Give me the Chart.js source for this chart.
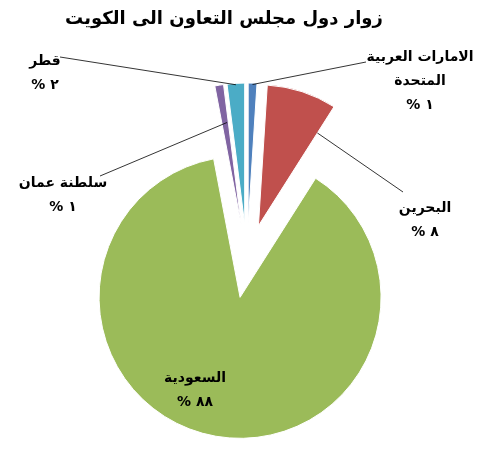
<!DOCTYPE html>
<html>
<head>
<meta charset="utf-8">
<script src="https://cdn.jsdelivr.net/npm/chart.js@4.4.1/dist/chart.umd.min.js"></script>
<style>
  html, body { margin: 0; padding: 0; background: #fff; }
  #wrap { width: 490px; height: 450px; }
</style>
</head>
<body>
<div id="wrap"><canvas id="pieChart"></canvas></div>
<script>
// البيانات
const chartTitle = "زوار دول مجلس التعاون الى الكويت";
const countries = ["الامارات العربية المتحدة", "البحرين", "السعودية", "سلطنة عمان", "قطر"];
const labelLines = [["الامارات العربية", "المتحدة"], ["البحرين"], ["السعودية"], ["سلطنة عمان"], ["قطر"]];
const visitorShare = [1, 8, 88, 1, 2];
const sliceColors = ["#4F81BD", "#C0504D", "#9BBB59", "#8064A2", "#4BACC6"];

// مكان كل تسمية + نقطة بداية خط الدليل (t = موضع على زاوية الشريحة, rf = نسبة من نصف القطر)
const labelBoxes = [
  { x: 420, y: 57, lead: [366, 62], t: 0.5, rf: 0.99 },
  { x: 425, y: 208, lead: [403, 192], t: 1.0, rf: 0.78 },
  { x: 195, y: 378, lead: null },
  { x: 63, y: 183, lead: [100, 176], t: 0.8, rf: 0.73 },
  { x: 45, y: 61, lead: [60, 57], t: 0.5, rf: 0.99 }
];

const SHIFT = 37; // مسافة فصل الشرائح
const FONT = '"DejaVu Sans", Arial, sans-serif';

function arabicDigits(n) {
  return String(n).replace(/\d/g, (d) => "٠١٢٣٤٥٦٧٨٩"[d]);
}

// رسم الشريحة مزاحة بالكامل (مثل Excel) بدل التصغير الافتراضي في Chart.js
Chart.ArcElement.prototype.draw = function (ctx) {
  const { x, y, startAngle, endAngle, outerRadius } = this;
  const opts = this.options;
  const mid = (startAngle + endAngle) / 2;
  const shift = opts.offset || 0;
  ctx.save();
  ctx.translate(Math.cos(mid) * shift, Math.sin(mid) * shift);
  ctx.beginPath();
  ctx.moveTo(x, y);
  ctx.arc(x, y, outerRadius, startAngle, endAngle);
  ctx.closePath();
  ctx.fillStyle = opts.backgroundColor;
  ctx.fill();
  if (opts.borderWidth) {
    ctx.lineWidth = opts.borderWidth;
    ctx.strokeStyle = opts.borderColor;
    ctx.stroke();
  }
  ctx.restore();
};

const pieLabels = {
  id: "pieLabels",
  afterDatasetsDraw(chart) {
    const ctx = chart.ctx;
    const arcs = chart.getDatasetMeta(0).data;

    ctx.save();
    // العنوان
    ctx.fillStyle = "#000";
    ctx.textAlign = "center";
    ctx.textBaseline = "middle";
    ctx.direction = "rtl";
    ctx.font = "bold 18px " + FONT;
    ctx.fillText(chartTitle, 224, 19);

    arcs.forEach((arc, i) => {
      const box = labelBoxes[i];
      const p = arc.getProps(["x", "y", "startAngle", "endAngle", "outerRadius"], true);
      const shift = arc.options.offset || 0;
      const mid = (p.startAngle + p.endAngle) / 2;

      if (box.lead) {
        const a = p.startAngle + box.t * (p.endAngle - p.startAngle);
        const ax = p.x + Math.cos(mid) * shift + Math.cos(a) * p.outerRadius * box.rf;
        const ay = p.y + Math.sin(mid) * shift + Math.sin(a) * p.outerRadius * box.rf;
        ctx.beginPath();
        ctx.moveTo(box.lead[0], box.lead[1]);
        ctx.lineTo(ax, ay);
        ctx.strokeStyle = "#000";
        ctx.lineWidth = 0.8;
        ctx.stroke();
      }

      ctx.font = "bold 14px " + FONT;
      const lines = labelLines[i].concat([arabicDigits(visitorShare[i]) + " %"]);
      lines.forEach((txt, k) => {
        ctx.fillText(txt, box.x, box.y + k * 24);
      });
    });
    ctx.restore();
  }
};

const ctx = document.getElementById("pieChart").getContext("2d");
new Chart(ctx, {
  type: "pie",
  data: {
    labels: countries,
    datasets: [
      {
        data: visitorShare,
        backgroundColor: sliceColors,
        borderColor: "#fff",
        borderWidth: 1,
        offset: SHIFT,
        hoverOffset: 0
      }
    ]
  },
  options: {
    responsive: true,
    maintainAspectRatio: false,
    animation: false,
    layout: { padding: { top: 101, bottom: 29, left: 4, right: 0 } },
    plugins: {
      legend: { display: false },
      title: { display: false },
      tooltip: { enabled: false }
    }
  },
  plugins: [pieLabels]
});
</script>
</body>
</html>
